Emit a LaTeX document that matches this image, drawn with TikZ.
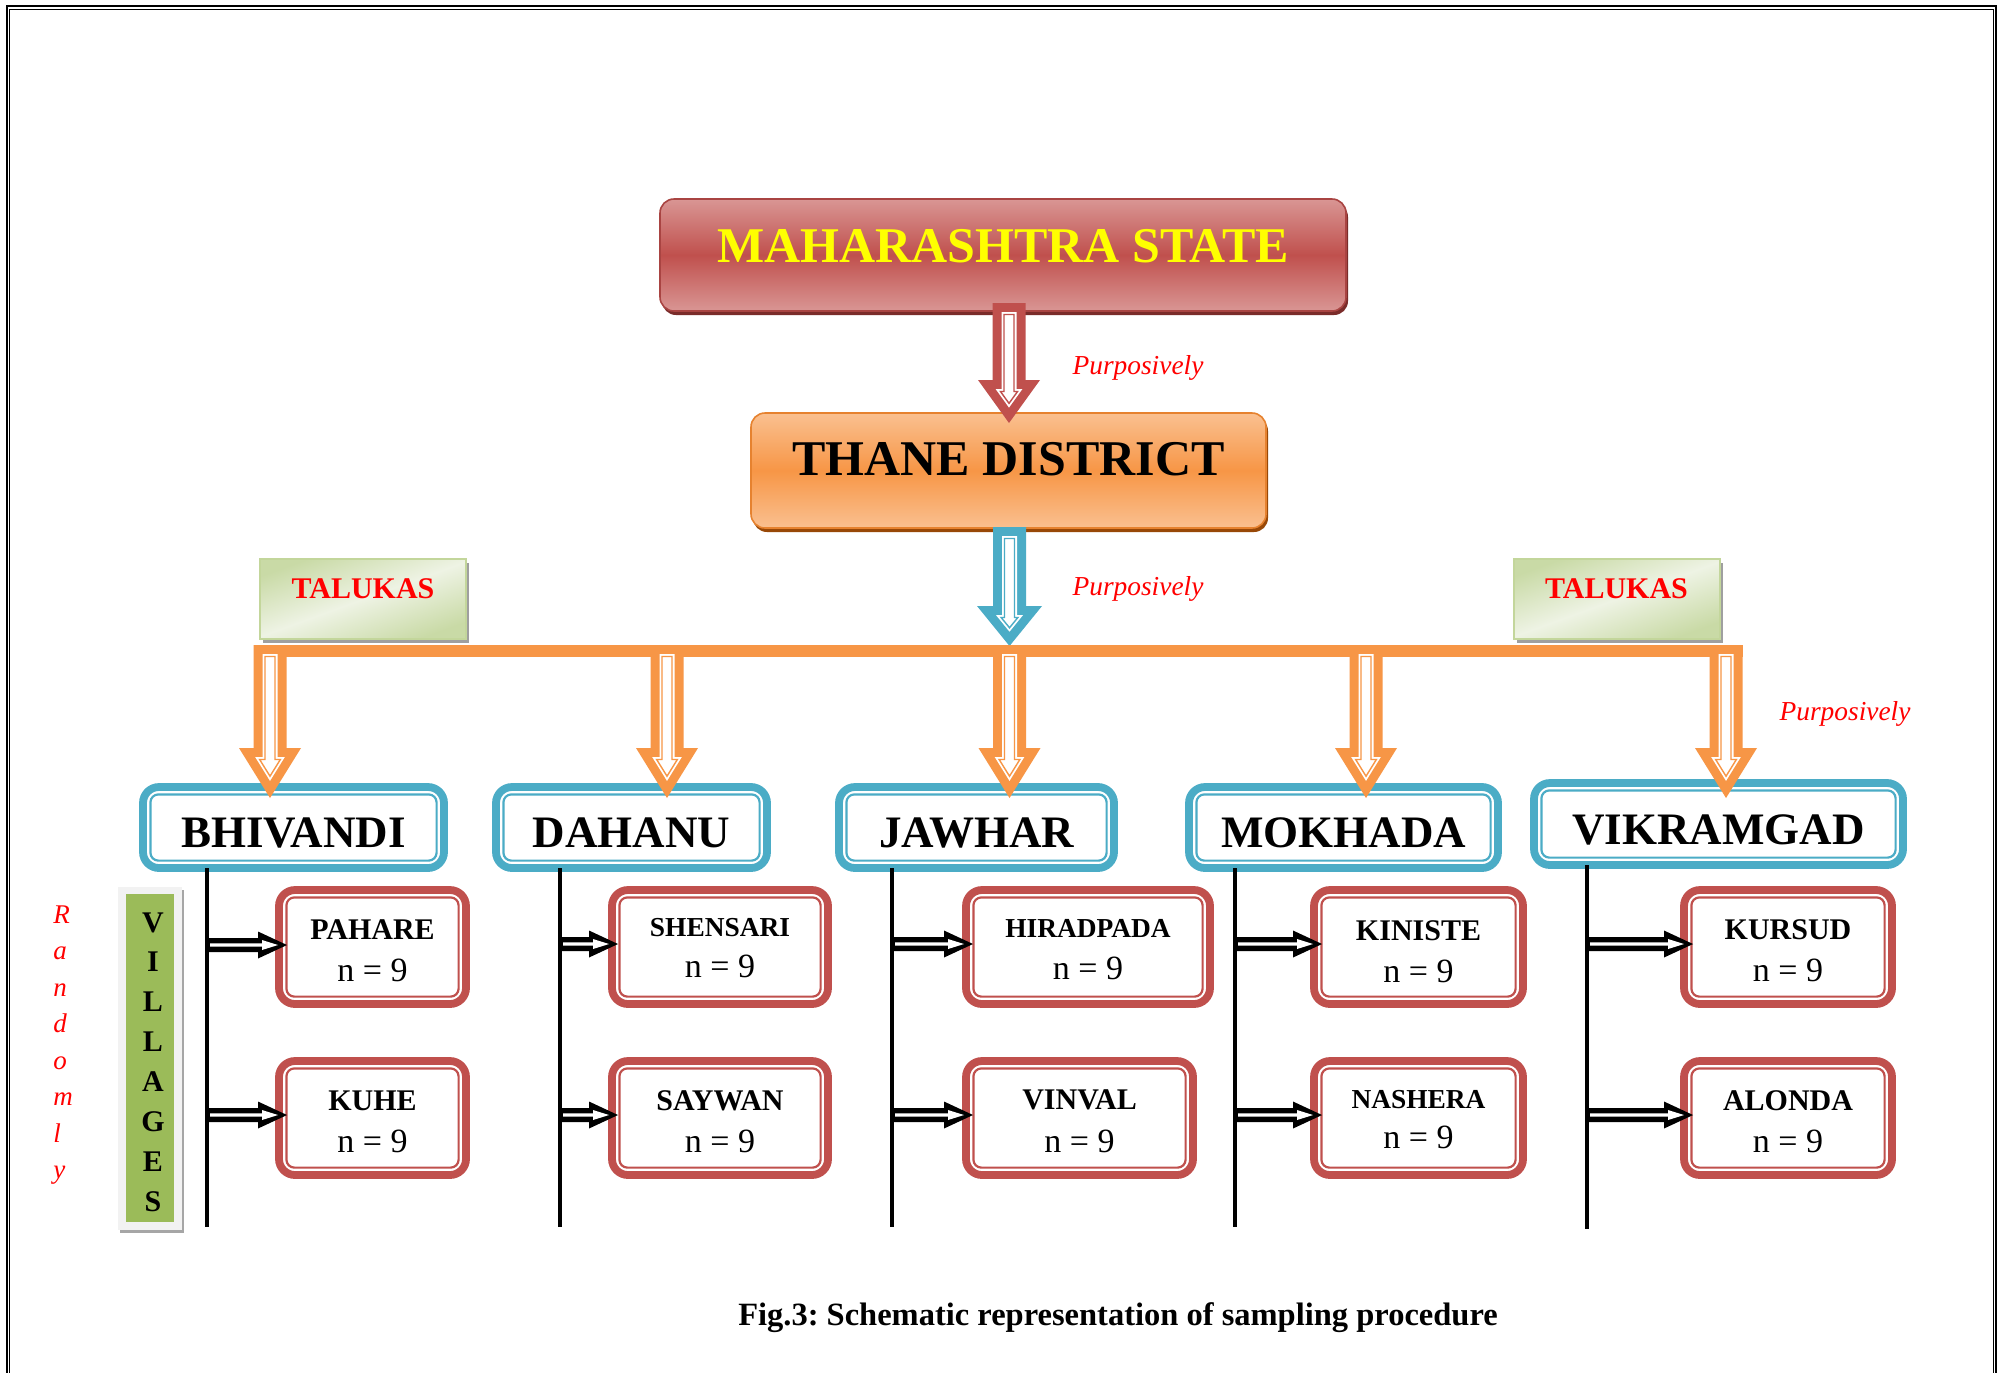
\documentclass[tikz,border=0pt]{standalone}
\usepackage{fontspec}
\setmainfont{Liberation Serif}
\usetikzlibrary{calc}
\frenchspacing
\definecolor{redC}{HTML}{C0504D}
\definecolor{redL}{HTML}{D99694}
\definecolor{redD}{HTML}{A94442}
\definecolor{redS}{HTML}{7A2C2A}
\definecolor{blueC}{HTML}{4BACC6}
\definecolor{orangeC}{HTML}{F79646}
\definecolor{orangeL}{HTML}{FAC090}
\definecolor{orangeD}{HTML}{E6822F}
\definecolor{orangeS}{HTML}{984807}
\definecolor{greenC}{HTML}{9BBB59}
\definecolor{greenL}{HTML}{EEF3E4}
\definecolor{greenM}{HTML}{C9DAA6}
\definecolor{greenB}{HTML}{C3D69B}
\definecolor{grayBG}{HTML}{F2F2F2}
\definecolor{txtred}{HTML}{FF0000}
\definecolor{txtyellow}{HTML}{FFFF00}

% block arrow: color, cx, ytop, yheadstart, ytip, head half width
\newcommand{\hollowarrow}[6]{%
 \pgfmathsetmacro\HAh{#5-#4}%
 \pgfmathsetmacro\HAs{#6/sqrt((#6)*(#6)+(\HAh)*(\HAh))}%
 \pgfmathsetmacro\HAta{#5-9/\HAs}%
 \pgfmathsetmacro\HAsa{#4+9}%
 \pgfmathsetmacro\HAba{(\HAta-\HAsa)*#6/\HAh}%
 \pgfmathsetmacro\HAtb{#5-11.5/\HAs}%
 \pgfmathsetmacro\HAsb{#4+11.5}%
 \pgfmathsetmacro\HAbb{(\HAtb-\HAsb)*#6/\HAh}%
 \fill[#1] (#2-16.5,#3) -- (#2-16.5,#4) -- (#2-#6,#4) -- (#2,#5) -- (#2+#6,#4) -- (#2+16.5,#4) -- (#2+16.5,#3) -- cycle;
 \fill[white] (#2-7.5,#3+9) -- (#2-7.5,\HAsa) -- (#2-\HAba,\HAsa) -- (#2,\HAta) -- (#2+\HAba,\HAsa) -- (#2+7.5,\HAsa) -- (#2+7.5,#3+9) -- cycle;
 \draw[#1, line width=0.7pt] (#2-5,#3+11.5) -- (#2-5,\HAsb) -- (#2-\HAbb,\HAsb) -- (#2,\HAtb) -- (#2+\HAbb,\HAsb) -- (#2+5,\HAsb) -- (#2+5,#3+11.5) -- cycle;
}
% black double arrow: x start, x tip, y
\newcommand{\blkarrow}[3]{%
 \fill[black] (#1,#3-7) -- (#2-29,#3-7) -- (#2-29,#3-13.5) -- (#2,#3) -- (#2-29,#3+13.5) -- (#2-29,#3+7) -- (#1,#3+7) -- cycle;
 \fill[white] (#1+5,#3-1.6) -- (#2-25,#3-1.6) -- (#2-25,#3-5) -- (#2-9,#3) -- (#2-25,#3+5) -- (#2-25,#3+1.6) -- (#1+5,#3+1.6) -- cycle;
}

\begin{document}
\begin{tikzpicture}[x=0.5pt,y=-0.5pt,
  distbox/.style={draw=blueC, line width=3.9pt, rounded corners=8pt, fill=white,
    inner sep=0pt, minimum height=40.5pt,
    font=\bfseries\fontsize{22.5}{27}\selectfont, text height=19.5pt, text depth=0pt,
    path picture={\draw[blueC, line width=1.1pt, rounded corners=4pt]
      ([shift={(3.7pt,-3.7pt)}]path picture bounding box.north west) rectangle
      ([shift={(-3.7pt,3.7pt)}]path picture bounding box.south east);}},
  vbox/.style={draw=redC, line width=3.9pt, rounded corners=8pt, fill=white,
    inner sep=0pt, minimum height=57pt,
    path picture={\draw[redC, line width=1.1pt, rounded corners=4pt]
      ([shift={(3.7pt,-3.7pt)}]path picture bounding box.north west) rectangle
      ([shift={(-3.7pt,3.7pt)}]path picture bounding box.south east);}},
  vname/.style={font=\bfseries\fontsize{15}{18}\selectfont, anchor=base, inner sep=0pt},
  vnames/.style={font=\bfseries\fontsize{13.7}{16}\selectfont, anchor=base, inner sep=0pt},
  vnum/.style={font=\fontsize{17}{20}\selectfont, anchor=base, inner sep=0pt},
  purp/.style={font=\itshape\fontsize{13.7}{16}\selectfont, text=txtred, anchor=base, inner sep=0pt},
  taluka/.style={draw=greenB, line width=1pt, inner sep=0pt, minimum width=103pt, minimum height=40pt,
    top color=greenM, bottom color=greenM, middle color=greenL, shading angle=20,
    preaction={fill=gray!75, transform canvas={xshift=1.5pt,yshift=-2pt}},
    font=\bfseries\fontsize{15}{18}\selectfont, text=txtred, text height=10pt, text depth=11pt},
  vline/.style={line width=2pt, black},
  vletter/.style={font=\bfseries\fontsize{15}{18}\selectfont, anchor=base, inner sep=0pt},
  rletter/.style={font=\itshape\fontsize{13.5}{16}\selectfont, text=txtred, anchor=base west, inner sep=0pt}
]
\useasboundingbox (0,0) rectangle (2005,1372);
\fill[white] (0,0) rectangle (2005,1372);

% page border
\draw[line width=1.1pt] (7,1380) -- (7,5.7) -- (1996,5.7) -- (1996,1380);
\draw[line width=0.5pt] (9.8,1380) -- (9.8,9.8) -- (1993,9.8) -- (1993,1380);

% state and district boxes
\node[draw=redD, line width=0.8pt, rounded corners=7pt, minimum width=343pt, minimum height=56pt, inner sep=0pt,
  top color=redL, bottom color=redL, middle color=redC,
  preaction={fill=redS, transform canvas={xshift=1pt,yshift=-2pt}},
  font=\bfseries\fontsize{25}{30}\selectfont, text=txtyellow, text height=17pt, text depth=10pt]
  (mah) at (1003,255) {MAHARASHTRA STATE};

\node[draw=orangeD, line width=0.8pt, rounded corners=7pt, minimum width=257.5pt, minimum height=57.5pt, inner sep=0pt,
  top color=orangeL, bottom color=orangeL, middle color=orangeC,
  preaction={fill=orangeS, transform canvas={xshift=1pt,yshift=-2pt}},
  font=\bfseries\fontsize{25}{30}\selectfont, text=black, text height=17pt, text depth=12.5pt]
  (thane) at (1008.5,470.5) {THANE DISTRICT};

% talukas labels
\node[taluka] (talL) at (363,599) {TALUKAS};
\node[taluka] (talR) at (1616.5,599) {TALUKAS};

% orange distribution bar
\fill[orangeC] (253.5,645) rectangle (1742.5,657);

% taluka boxes
\node[distbox, minimum width=150.5pt] (bhi) at (293.5,827.5) {BHIVANDI};
\node[distbox, minimum width=135.5pt] (dah) at (631.5,827.5) {DAHANU};
\node[distbox, minimum width=137.5pt] (jaw) at (976.5,827.5) {JAWHAR};
\node[distbox, minimum width=154.5pt] (mok) at (1343.5,827.5) {MOKHADA};
\node[distbox, minimum width=184.5pt, minimum height=41pt, text height=20pt] (vik) at (1718.5,824) {VIKRAMGAD};

% block arrows
\hollowarrow{redC}{1009}{303}{380}{423}{31}
\hollowarrow{blueC}{1009.5}{527}{606}{646}{32.5}
\hollowarrow{orangeC}{270}{645}{748}{798}{31}
\hollowarrow{orangeC}{667}{645}{748}{798}{31}
\hollowarrow{orangeC}{1009.5}{645}{748}{798}{31}
\hollowarrow{orangeC}{1366}{645}{748}{798}{31}
\hollowarrow{orangeC}{1726}{645}{748}{798}{31}

% purposively labels
\node[purp] (p1) at (1138,374) {Purposively};
\node[purp] (p2) at (1138,595) {Purposively};
\node[purp] (p3) at (1845,720) {Purposively};

% village boxes
\node[vbox, minimum width=93.5pt] (pah) at (372.5,947) {};
\node[vbox, minimum width=93.5pt] (kuh) at (372.5,1118) {};
\node[vbox, minimum width=108pt] (she) at (720,947) {};
\node[vbox, minimum width=108pt] (say) at (720,1118) {};
\node[vbox, minimum width=122pt] (hir) at (1088,947) {};
\node[vbox, minimum width=113.5pt] (vin) at (1079.5,1118) {};
\node[vbox, minimum width=104.5pt] (kin) at (1418.5,947) {};
\node[vbox, minimum width=104.5pt] (nas) at (1418.5,1118) {};
\node[vbox, minimum width=104pt] (kur) at (1788,947) {};
\node[vbox, minimum width=104pt] (alo) at (1788,1118) {};

\node[vname] (pahT) at (372.5,939) {PAHARE};   \node[vnum] (pahN) at (372.5,981) {n = 9};
\node[vname] (kuhT) at (372.5,1110) {KUHE};    \node[vnum] (kuhN) at (372.5,1152) {n = 9};
\node[vnames] (sheT) at (720,936) {SHENSARI};  \node[vnum] (sheN) at (720,977) {n = 9};
\node[vname] (sayT) at (720,1110) {SAYWAN};    \node[vnum] (sayN) at (720,1152) {n = 9};
\node[vnames] (hirT) at (1088,937) {HIRADPADA}; \node[vnum] (hirN) at (1088,979) {n = 9};
\node[vname] (vinT) at (1079.5,1109) {VINVAL}; \node[vnum] (vinN) at (1079.5,1152) {n = 9};
\node[vname] (kinT) at (1418.5,940) {KINISTE}; \node[vnum] (kinN) at (1418.5,982) {n = 9};
\node[vnames] (nasT) at (1418.5,1108) {NASHERA}; \node[vnum] (nasN) at (1418.5,1148) {n = 9};
\node[vname] (kurT) at (1788,939) {KURSUD};    \node[vnum] (kurN) at (1788,981) {n = 9};
\node[vname] (aloT) at (1788,1110) {ALONDA};   \node[vnum] (aloN) at (1788,1152) {n = 9};

% vertical lines under taluka boxes
\coordinate (l1t) at (207,868);  \coordinate (l1b) at (207,1227);
\coordinate (l2t) at (560,868);  \coordinate (l2b) at (560,1227);
\coordinate (l3t) at (892,868);  \coordinate (l3b) at (892,1227);
\coordinate (l4t) at (1235,868); \coordinate (l4b) at (1235,1227);
\coordinate (l5t) at (1587,865); \coordinate (l5b) at (1587,1229);
\draw[vline] (l1t) -- (l1b);
\draw[vline] (l2t) -- (l2b);
\draw[vline] (l3t) -- (l3b);
\draw[vline] (l4t) -- (l4b);
\draw[vline] (l5t) -- (l5b);

% black arrows to villages
\blkarrow{205}{287}{945}  \blkarrow{205}{287}{1115}
\blkarrow{558}{618}{944}  \blkarrow{558}{618}{1115}
\blkarrow{890}{973}{944}  \blkarrow{890}{973}{1115}
\blkarrow{1233}{1322}{944} \blkarrow{1233}{1322}{1115}
\blkarrow{1585}{1693}{944} \blkarrow{1585}{1693}{1115}

% VILLAGES label
\node[fill=grayBG, minimum width=32pt, minimum height=171.5pt, inner sep=0pt,
  preaction={fill=gray!70, transform canvas={xshift=1pt,yshift=-1.5pt}}] (vilbg) at (150,1058.5) {};
\node[fill=greenC, minimum width=24pt, minimum height=164pt, inner sep=0pt] (vil) at (150,1058) {};
\foreach \l [count=\i from 0] in {V,I,L,L,A,G,E,S}
  \node[vletter] (vl\i) at (153,932+39.9*\i) {\l};

% Randomly
\foreach \l [count=\i from 0] in {R,a,n,d,o,m,l,y}
  \node[rletter] (rl\i) at (53,923+36.5*\i) {\l};

% caption
\node[font=\bfseries\fontsize{16.25}{19}\selectfont, anchor=base, inner sep=0pt] (cap) at (1118,1325)
  {Fig.3: Schematic representation of sampling procedure};
\end{tikzpicture}
\end{document}
